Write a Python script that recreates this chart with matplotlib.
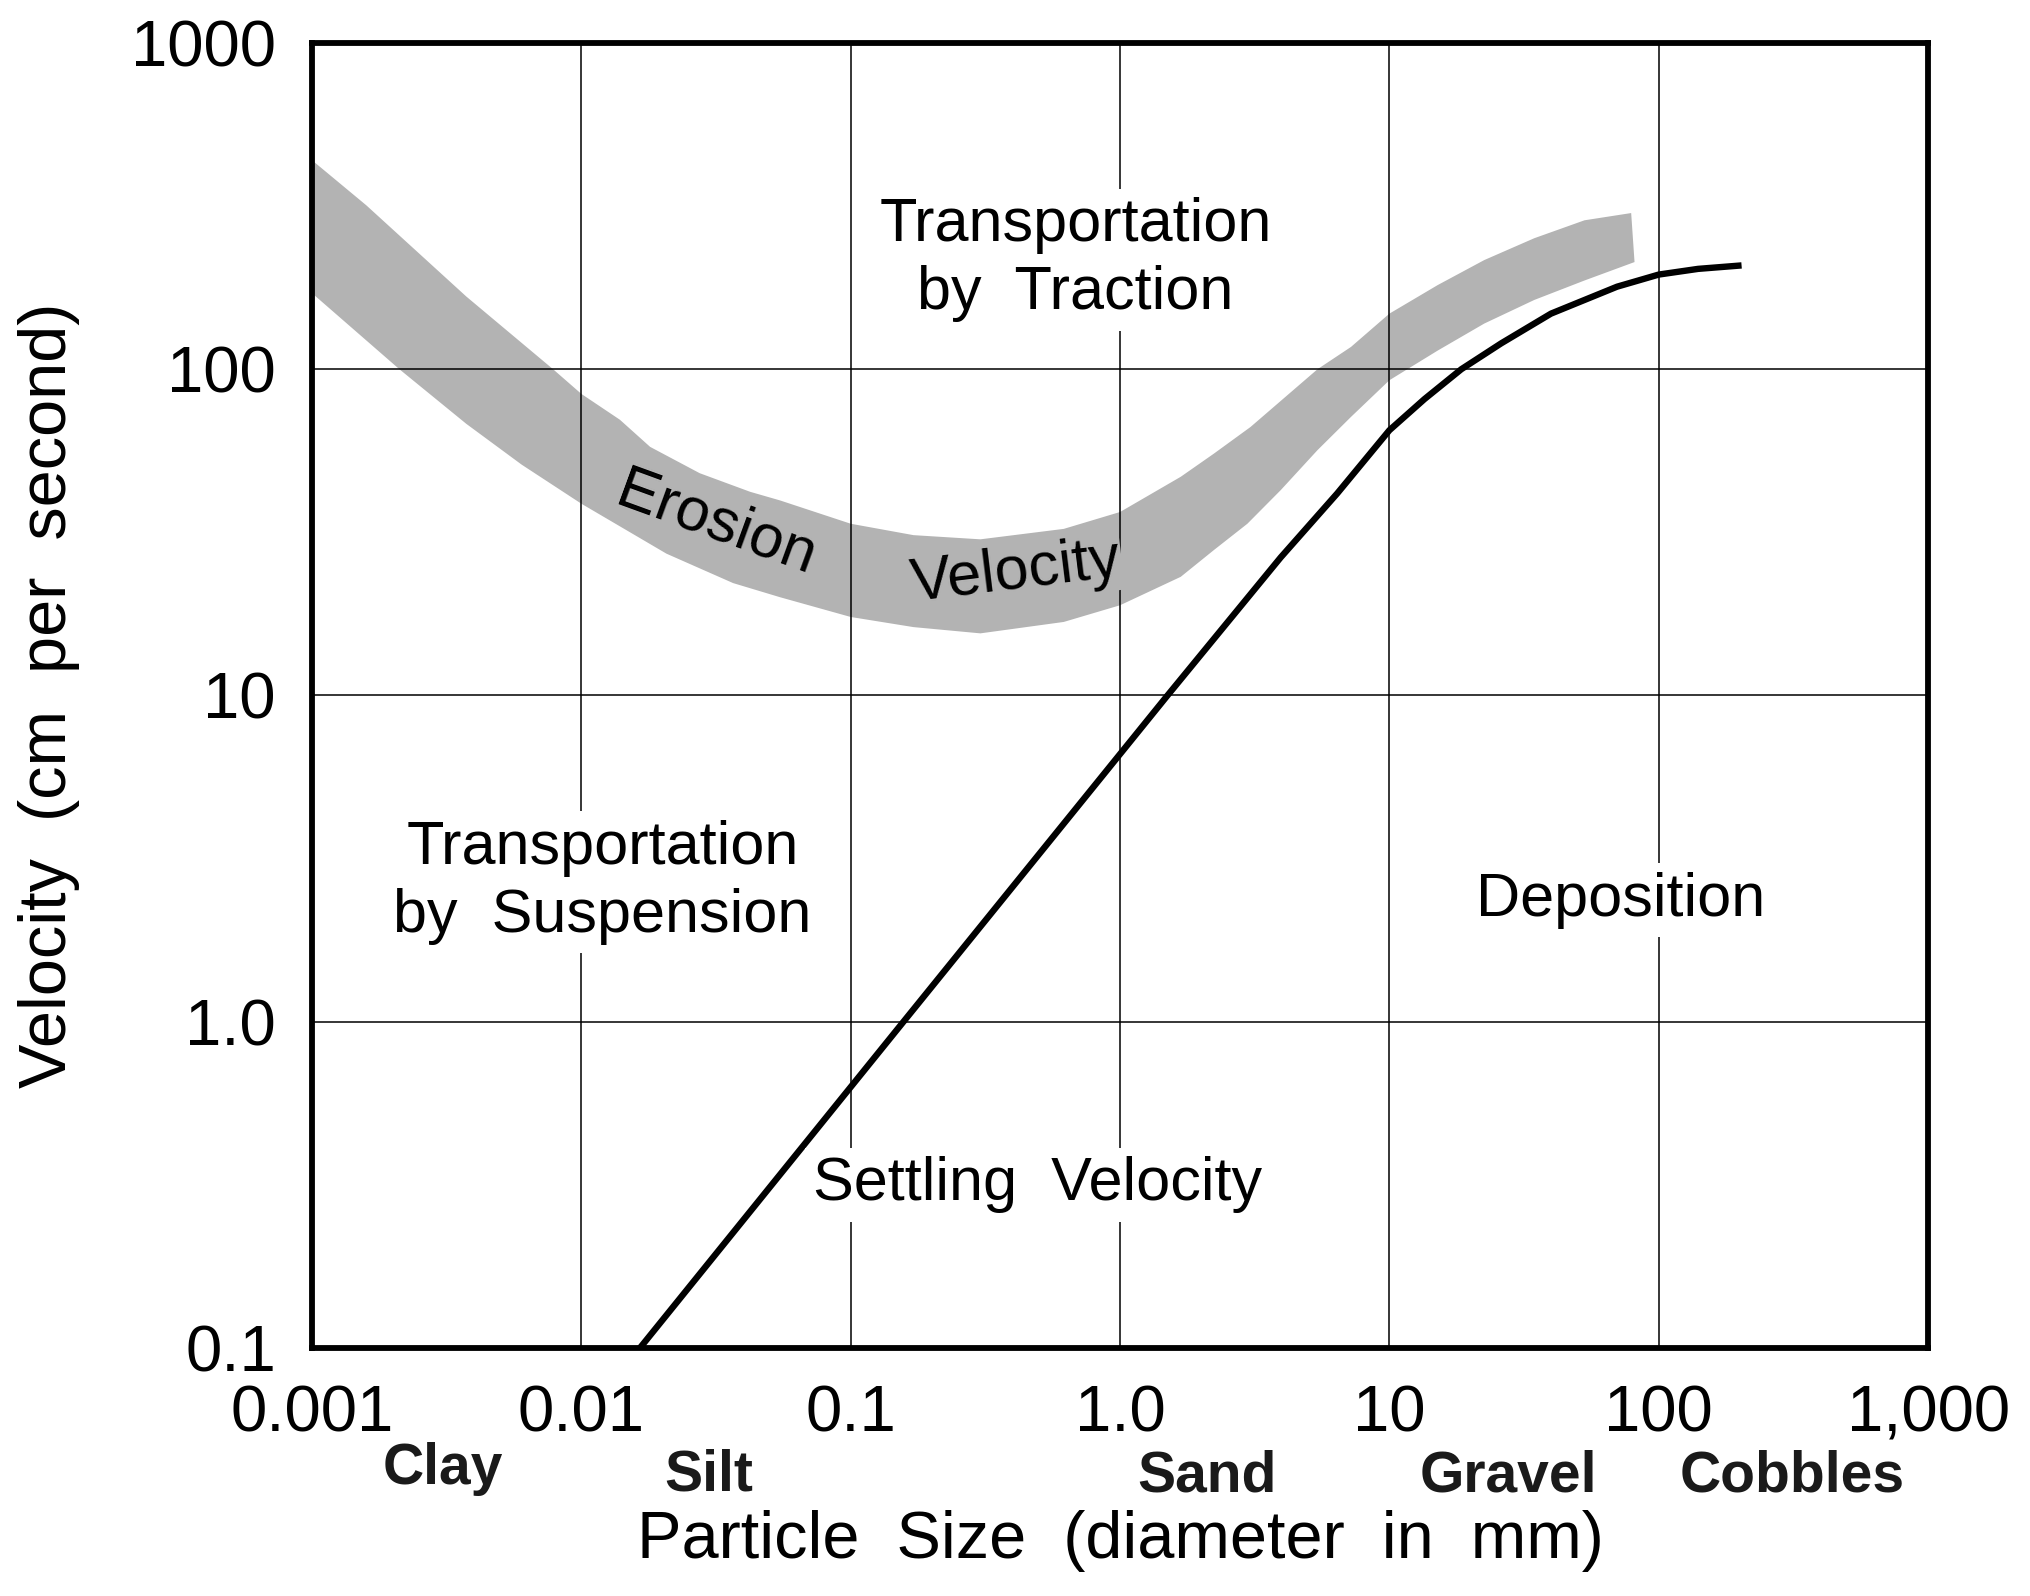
import matplotlib
matplotlib.use("Agg")
import matplotlib.pyplot as plt

# particle size ticks (mm) and velocity ticks (cm/s)
x_ticks = [0.001, 0.01, 0.1, 1.0, 10, 100, 1000]
x_tick_labels = ["0.001", "0.01", "0.1", "1.0", "10", "100", "1,000"]
y_ticks = [0.1, 1.0, 10, 100, 1000]
y_tick_labels = ["0.1", "1.0", "10", "100", "1000"]

# erosion velocity band, upper and lower edges
erosion_upper_x = [0.001, 0.00159, 0.00374, 0.00785, 0.01, 0.0139, 0.018, 0.0275, 0.0423, 0.0547,
                   0.1, 0.171, 0.303, 0.618, 1.0, 1.68, 2.23, 3.05, 5.41, 7.2, 10, 15.1,
                   22.5, 34.5, 53, 79]
erosion_upper_y = [437, 318, 167, 100, 84, 70, 57.8, 48, 42.1, 39.6,
                   33.6, 31, 30.1, 32.4, 36.5, 46.8, 55.1, 66.5, 100, 117, 148, 181,
                   216, 252, 286, 301]
erosion_lower_x = [0.001, 0.00211, 0.00374, 0.006, 0.01, 0.0207, 0.0366, 0.0547, 0.1, 0.171,
                   0.303, 0.618, 1.0, 1.68, 2.23, 2.97, 3.95, 5.41, 7.2, 10, 15.1, 22.5,
                   34.5, 53, 81.3]
erosion_lower_y = [171, 100, 68, 51, 38.7, 27.2, 22.1, 20, 17.4, 16.2,
                   15.5, 16.8, 18.9, 23.1, 27.9, 33.6, 42.6, 56.5, 71.4, 92.5, 114, 138,
                   163, 187, 213]

# settling velocity curve
settling_x = [0.0165, 0.157, 1.5, 3.95, 6.4, 8, 10, 13.5, 18.5, 26, 39.8, 70, 100, 140, 203]
settling_y = [0.1, 1.0, 10, 26.5, 41.6, 52, 65, 81, 100, 120, 148, 179, 195, 203, 208]

size_classes = ["Clay", "Silt", "Sand", "Gravel", "Cobbles"]

plt.rcParams['font.family'] = ['Liberation Sans', 'DejaVu Sans']

fig = plt.figure(figsize=(20.3, 15.96), dpi=100)
ax = fig.add_axes([0.1537, 0.1554, 0.7961, 0.8177])
ax.set_xscale('log')
ax.set_yscale('log')
ax.set_xlim(0.001, 1000)
ax.set_ylim(0.1, 1000)

band_x = erosion_upper_x + erosion_lower_x[::-1]
band_y = erosion_upper_y + erosion_lower_y[::-1]
ax.fill(band_x, band_y, color='#b3b3b3', lw=0, zorder=1)

ax.plot(settling_x, settling_y, color='black', lw=4.6, solid_capstyle='butt',
        solid_joinstyle='round', zorder=2)

ax.set_xticks(x_ticks)
ax.set_xticklabels(x_tick_labels)
ax.set_yticks(y_ticks)
ax.set_yticklabels(y_tick_labels)
ax.minorticks_off()
ax.tick_params(length=0, pad=26, labelsize=47)
ax.grid(True, color='black', lw=1.1)
ax.set_axisbelow(False)
for gl in ax.get_xgridlines() + ax.get_ygridlines():
    gl.set_zorder(1.5)
for sp in ax.spines.values():
    sp.set_linewidth(4.2)
    sp.set_zorder(5)

white = dict(facecolor='white', edgecolor='none', pad=6)
gray = dict(facecolor='#b3b3b3', edgecolor='none', pad=1)
ax.text(0.4725, 0.8337, "Transportation\nby  Traction", transform=ax.transAxes, fontsize=44,
        ha='center', va='center', linespacing=1.25, bbox=white, zorder=3)
ax.text(0.1798, 0.357, "Transportation\nby  Suspension", transform=ax.transAxes, fontsize=44,
        ha='center', va='center', linespacing=1.25, bbox=white, zorder=3)
ax.text(0.449, 0.1249, "Settling  Velocity", transform=ax.transAxes, fontsize=44,
        ha='center', va='center', bbox=white, zorder=3)
ax.text(0.810, 0.343, "Deposition", transform=ax.transAxes, fontsize=44,
        ha='center', va='center', bbox=white, zorder=3)
ax.text(0.2499, 0.6314, "Erosion", transform=ax.transAxes, fontsize=44, rotation=-20,
        ha='center', va='center', rotation_mode='anchor', bbox=gray, zorder=3)
ax.text(0.4355, 0.5939, "Velocity", transform=ax.transAxes, fontsize=44, rotation=7,
        ha='center', va='center', rotation_mode='anchor', bbox=gray, zorder=3)

fig.text(0.0241, 0.5646, "Velocity  (cm  per  second)", rotation=90, fontsize=48,
         ha='center', va='center')
fig.text(0.5517, 0.0345, "Particle  Size  (diameter  in  mm)", fontsize=48,
         ha='center', va='center')

class_pos = [(0.218, 0.0796), (0.349, 0.0752), (0.5946, 0.0746), (0.743, 0.0746), (0.883, 0.0746)]
for name, (px, py) in zip(size_classes, class_pos):
    fig.text(px, py, name, fontsize=41, fontweight='bold', color='#1a1a1a',
             ha='center', va='center')

fig.savefig("out.png", dpi=100)
